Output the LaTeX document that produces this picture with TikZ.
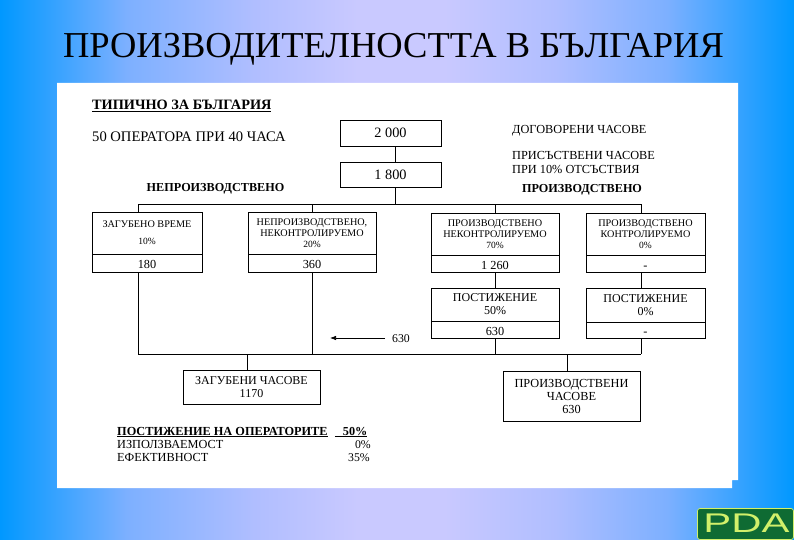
\documentclass[tikz,border=0pt]{standalone}
\usepackage{fontspec}
\setmainfont{Liberation Serif}
\usetikzlibrary{arrows.meta,positioning,calc}
\definecolor{logogreen}{HTML}{0F6B33}
\definecolor{logolime}{HTML}{D2F06A}
\pgfdeclarehorizontalshading{slidebg}{100bp}{
	rgb(0bp)=(0,0.596,1);
	rgb(25bp)=(0,0.596,1);
	rgb(33bp)=(0.49,0.69,1);
	rgb(41bp)=(0.69,0.745,1);
	rgb(47.5bp)=(0.788,0.788,1);
	rgb(53bp)=(0.788,0.788,1);
	rgb(60bp)=(0.69,0.745,1);
	rgb(67bp)=(0.49,0.69,1);
	rgb(75bp)=(0,0.596,1);
	rgb(100bp)=(0,0.596,1)}
\tikzset{
	boxnode/.style={draw,line width=0.9pt,inner sep=0pt,minimum width=#1,font=\fontsize{10.2}{10.8}\selectfont,align=center},
	valnode/.style={boxnode=#1,font=\fontsize{12.3}{13}\selectfont,text height=11pt,text depth=0pt},
	plainlabel/.style={anchor=west,inner sep=0pt,font=\fontsize{12.3}{13.3}\selectfont,align=left},
	headlabel/.style={inner sep=0pt,font=\fontsize{12.2}{13}\selectfont\bfseries},
	smalllabel/.style={inner sep=0pt,font=\fontsize{11.8}{12}\selectfont},
	line/.style={line width=0.9pt}
}
\newcommand{\pct}[1]{{\fontsize{9.5}{10}\selectfont #1\%}}
\begin{document}
\begin{tikzpicture}[x=1pt,y=-1pt]
	\useasboundingbox (0,0) rectangle (794,540);
	\shade[shading=slidebg] (0,0) rectangle (794,540);
	% sheet
	\fill[white] (57,83) -- (738,83) -- (738,480) -- (732,480) -- (732,488) -- (57,488) -- cycle;
	\node at (393.5,49.5) (title) [inner sep=0pt,font=\fontsize{36.5}{38}\selectfont] {ПРОИЗВОДИТЕЛНОСТТА В БЪЛГАРИЯ};
	% head texts
	\node at (92,106) (typical) [plainlabel,font=\fontsize{14.3}{15}\selectfont\bfseries] {\underline{ТИПИЧНО ЗА БЪЛГАРИЯ}};
	\node at (92,137) (operators) [plainlabel,font=\fontsize{14.6}{15}\selectfont] {50 ОПЕРАТОРА ПРИ 40 ЧАСА};
	\node at (512,131) (agreed) [plainlabel] {ДОГОВОРЕНИ ЧАСОВЕ};
	\node at (512,162.5) (present) [plainlabel] {ПРИСЪСТВЕНИ ЧАСОВЕ\\ПРИ 10\% ОТСЪСТВИЯ};
	\node at (215.5,189) (nonprod) [headlabel] {НЕПРОИЗВОДСТВЕНО};
	\node at (582,190) (prod) [headlabel] {ПРОИЗВОДСТВЕНО};
	% top boxes
	\node at (390.5,133) (contract) [boxnode=101pt,minimum height=26pt,font=\fontsize{14.3}{15}\selectfont] {2 000};
	\node at (390.5,174.5) (attend) [boxnode=101pt,minimum height=25pt,font=\fontsize{14.3}{15}\selectfont] {1 800};
	% bus points
	\coordinate (bustop) at (395,204);
	\coordinate (busleft) at (138,204);
	\coordinate (busright) at (641,204);
	\coordinate (lowleft) at (138,354);
	\coordinate (lowright) at (641,354);
	\coordinate (lowlost) at (247,354);
	\coordinate (lowprod) at (567,354);
	% four boxes
	\node at (147,233) (lost) [boxnode=110pt,minimum height=42pt] {ЗАГУБЕНО ВРЕМЕ\\[6pt]\pct{10}};
	\node at (147,263) (lostval) [valnode=110pt,minimum height=18pt] {180};
	\node at (312,233) (nonctl) [boxnode=128pt,minimum height=42pt] {НЕПРОИЗВОДСТВЕНО,\\НЕКОНТРОЛИРУЕМО\\\pct{20}};
	\node at (312,263) (nonctlval) [valnode=128pt,minimum height=18pt] {360};
	\node at (495,234) (produn) [boxnode=128pt,minimum height=42pt] {ПРОИЗВОДСТВЕНО\\НЕКОНТРОЛИРУЕМО\\\pct{70}};
	\node at (495,263.5) (produnval) [valnode=128pt,minimum height=17pt] {1 260};
	\node at (645.5,234) (prodctl) [boxnode=119pt,minimum height=42pt] {ПРОИЗВОДСТВЕНО\\КОНТРОЛИРУЕМО\\\pct{0}};
	\node at (645.5,263.5) (prodctlval) [valnode=119pt,minimum height=17pt] {-};
	% achievement boxes
	\node at (495,304.5) (achone) [boxnode=128pt,minimum height=33pt,font=\fontsize{12}{13}\selectfont] {ПОСТИЖЕНИЕ\\50\%};
	\node at (495,329.5) (achoneval) [valnode=128pt,minimum height=17pt] {630};
	\node at (645.5,305) (achtwo) [boxnode=119pt,minimum height=34pt,font=\fontsize{12}{13}\selectfont] {ПОСТИЖЕНИЕ\\0\%};
	\node at (645.5,330) (achtwoval) [valnode=119pt,minimum height=16pt] {-};
	% result boxes
	\node at (251.5,387) (lostsum) [boxnode=137pt,minimum height=34pt,font=\fontsize{12}{13}\selectfont] {ЗАГУБЕНИ ЧАСОВЕ\\1170};
	\node at (571.5,396) (prodsum) [boxnode=137pt,minimum height=50pt,font=\fontsize{12.3}{13}\selectfont] {ПРОИЗВОДСТВЕНИ\\ЧАСОВЕ\\630};
	% connectors
	\draw[line] (contract.south -| bustop) -- (attend.north -| bustop);
	\draw[line] (attend.south -| bustop) -- (bustop);
	\draw[line] (busleft) -- (busright);
	\draw[line] (busleft) -- (lost.north -| busleft);
	\draw[line] (nonctl.north) -- (nonctl.north |- bustop);
	\draw[line] (produn.north) -- (produn.north |- bustop);
	\draw[line] (busright) -- (prodctl.north -| busright);
	\draw[line] (lostval.south -| lowleft) -- (lowleft);
	\draw[line] (nonctlval.south) -- (nonctlval.south |- lowleft);
	\draw[line] (produnval) -- (achone);
	\draw[line] (prodctlval.south -| busright) -- (achtwo.north -| busright);
	\draw[line] (achoneval.south) -- (achoneval.south |- lowleft);
	\draw[line] (achtwoval.south -| lowright) -- (lowright);
	\draw[line] (lowleft) -- (lowright);
	\draw[line] (lowlost) -- (lostsum.north -| lowlost);
	\draw[line] (lowprod) -- (prodsum.north -| lowprod);
	% arrow
	\node at (401,339) (moved) [smalllabel] {630};
	\coordinate (arrowstart) at (385,338);
	\coordinate (arrowend) at (330,338);
	\draw[-{Latex[length=6pt,width=4.5pt]},line width=0.7pt] (arrowstart) -- (arrowend);
	% summary
	\node at (117,435) (summary) [plainlabel,anchor=base west,font=\fontsize{12.3}{13}\selectfont\bfseries] {\underline{ПОСТИЖЕНИЕ НА ОПЕРАТОРИТЕ}};
	\node at (367.5,435) (sumval) [headlabel,anchor=base east] {\underline{\hspace{8pt}50\%}};
	\node at (117,448) (usage) [plainlabel,anchor=base west] {ИЗПОЛЗВАЕМОСТ};
	\node at (371,448) (usageval) [smalllabel,anchor=base east] {0\%};
	\node at (117,461) (effect) [plainlabel,anchor=base west] {ЕФЕКТИВНОСТ};
	\node at (370,461) (effectval) [smalllabel,anchor=base east] {35\%};
	% logo
	\draw[logolime,line width=0.7pt,fill=logogreen,rounded corners=2.5pt] (697.5,508.5) rectangle (793.5,539.5);
	\node at (746.5,523) (logo) [inner sep=0pt,xscale=1.55,text=logolime,font=\fontspec{Liberation Sans}\fontsize{27}{28}\selectfont] {PDA};
\end{tikzpicture}
\end{document}
